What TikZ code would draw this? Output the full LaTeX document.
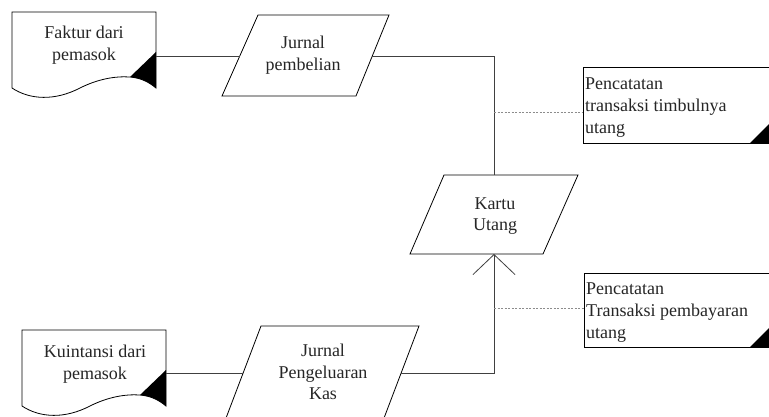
\documentclass[tikz,border=0pt]{standalone}
\usepackage{fontspec}
\setmainfont{Liberation Serif}
\usetikzlibrary{arrows.meta}
\begin{document}
\begin{tikzpicture}[x=1pt,y=-1pt,
  shapeline/.style={draw=black,line width=0.8pt,line join=miter},
  conn/.style={draw=black!75,line width=0.8pt},
  note/.style={draw=black!45,line width=0.5pt,dash pattern=on 2pt off 1.5pt},
  lbl/.style={inner sep=0pt,align=center,font=\fontsize{18}{21.5}\selectfont,text=black!85},
  lbll/.style={inner sep=0pt,align=left,anchor=base west,font=\fontsize{18}{22}\selectfont,text=black!85},
  doc/.pic={
    \draw[shapeline,fill=white] (0,0) -- (144,0) -- (144,76)
      .. controls (138,71) and (130,66) .. (118,65)
      .. controls (103,64) and (86,67) .. (68,76)
      .. controls (43,89) and (18,88) .. (0,76) -- cycle;
    \fill[black] (144,40) -- (118,65) .. controls (130,66) and (138,71) .. (144,76) -- cycle;
  }]
\clip (0,0) rectangle (769,417);
\fill[white] (0,0) rectangle (769,417);

% documents
\pic at (12,12) {doc};
\pic at (22,330) {doc};
\node[lbl] (faktur) at (84,45) {Faktur dari\\pemasok};
\node[lbl] (kuitansi) at (95,364) {Kuintansi dari\\pemasok};

% parallelograms
\draw[shapeline] (258,15) -- (389,15) -- (356,96) -- (222,96) -- cycle;
\node[lbl] (jpemb) at (303,55) {Jurnal\\pembelian};
\draw[shapeline] (261,326) -- (419,326) -- (381,426) -- (223,426) -- cycle;
\node[lbl] (jpeng) at (323,372) {Jurnal\\Pengeluaran\\Kas};
\draw[shapeline] (444,175) -- (578,175) -- (543,254) -- (410,254) -- cycle;
\node[lbl] (kartu) at (495,216) {Kartu\\Utang};

% note boxes
\draw[shapeline] (583,67) rectangle (790,143);
\fill[black] (750,143) -- (770,123) -- (770,143) -- cycle;
\node[lbll] (n1) at (585,134) {Pencatatan\\transaksi timbulnya\\utang};
\draw[shapeline] (584,273) rectangle (790,347);
\fill[black] (750,347) -- (770,327) -- (770,347) -- cycle;
\node[lbll] (n2) at (586,338) {Pencatatan\\Transaksi pembayaran\\utang};

% connection points
\coordinate (d1r) at (156,56);
\coordinate (p1l) at (240,56);
\coordinate (p1r) at (372,56);
\coordinate (ktop) at (494,175);
\coordinate (kbot) at (494,254);
\coordinate (d2r) at (166,373);
\coordinate (p2l) at (243,373);
\coordinate (p2r) at (401,373);
\coordinate (n1w) at (583,112);
\coordinate (n2w) at (584,308);

% connectors
\draw[conn] (d1r) -- (p1l);
\draw[conn] (p1r) -| (ktop);
\draw[conn] (d2r) -- (p2l);
\draw[conn,-{Straight Barb[length=20pt,width=42pt,line width=0.8pt]}] (p2r) -| (kbot);
\draw[note] (ktop |- n1w) -- (n1w);
\draw[note] (kbot |- n2w) -- (n2w);
\end{tikzpicture}
\end{document}
